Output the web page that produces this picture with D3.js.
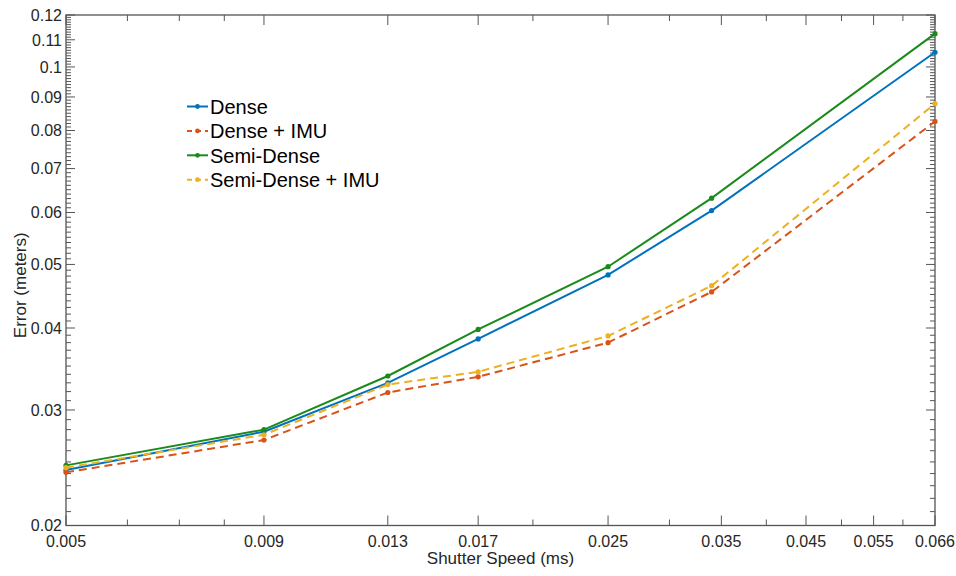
<!DOCTYPE html>
<html>
<head>
<meta charset="utf-8">
<script src="https://cdn.jsdelivr.net/npm/d3@7"></script>
<style>
    body { margin: 0; background: #fff; }
    text { font-family: "Liberation Sans", Arial, sans-serif; fill: #262626; }
</style>
</head>
<body>
<div id="chart"></div>
<script>
// shutter speeds (ms) the runs were made at
const shutter = [0.005, 0.009, 0.013, 0.017, 0.025, 0.034, 0.066];

// error in meters, one array per method
const dense         = [0.0243, 0.0278, 0.0330, 0.0385, 0.0482, 0.0604, 0.1053];
const denseImu      = [0.0241, 0.0270, 0.0319, 0.0337, 0.0380, 0.0454, 0.0826];
const semiDense     = [0.0247, 0.0280, 0.0338, 0.0398, 0.0496, 0.0631, 0.1124];
const semiDenseImu  = [0.0245, 0.0275, 0.0328, 0.0343, 0.0389, 0.0464, 0.0879];

const seriesNames = ["Dense", "Dense + IMU", "Semi-Dense", "Semi-Dense + IMU"];

// axis ticks
const xTicks = [0.005, 0.009, 0.013, 0.017, 0.025, 0.035, 0.045, 0.055, 0.066];
const xMinor = [0.006, 0.007, 0.008, 0.02, 0.03, 0.04, 0.05, 0.06];
const yTicks = [0.02, 0.03, 0.04, 0.05, 0.06, 0.07, 0.08, 0.09, 0.1, 0.11, 0.12];

const series = [
    { name: seriesNames[0], values: dense,        color: "#0072BD", dash: null },
    { name: seriesNames[1], values: denseImu,     color: "#D95319", dash: "8,5" },
    { name: seriesNames[2], values: semiDense,    color: "#1a8a1a", dash: null },
    { name: seriesNames[3], values: semiDenseImu, color: "#EDB120", dash: "8,5" }
];

const W = 956, H = 576;
const margin = { top: 15, right: 21, bottom: 50.5, left: 66 };
const width = W - margin.left - margin.right;
const height = H - margin.top - margin.bottom;

const svg = d3.select("#chart").append("svg")
    .attr("width", W)
    .attr("height", H)
    .append("g")
    .attr("transform", "translate(" + margin.left + "," + margin.top + ")");

const x = d3.scaleLog().domain([0.005, 0.066]).range([0, width]);
const y = d3.scaleLog().domain([0.02, 0.12]).range([height, 0]);

// minor y ticks every 0.001
const yMinor = d3.range(21, 120).filter(v => v % 10 !== 0).map(v => v / 1000);

const axisColor = "#555";

// bottom + top x ticks
function xTickLines(vals, len) {
    vals.forEach(v => {
        svg.append("line")
            .attr("x1", x(v)).attr("x2", x(v))
            .attr("y1", height).attr("y2", height - len)
            .attr("stroke", axisColor).attr("stroke-width", 1);
        svg.append("line")
            .attr("x1", x(v)).attr("x2", x(v))
            .attr("y1", 0).attr("y2", len)
            .attr("stroke", axisColor).attr("stroke-width", 1);
    });
}
xTickLines(xTicks, 10);
xTickLines(xMinor, 6);

// left + right y ticks
function yTickLines(vals, len) {
    vals.forEach(v => {
        svg.append("line")
            .attr("x1", 0).attr("x2", len)
            .attr("y1", y(v)).attr("y2", y(v))
            .attr("stroke", axisColor).attr("stroke-width", 1);
        svg.append("line")
            .attr("x1", width).attr("x2", width - len)
            .attr("y1", y(v)).attr("y2", y(v))
            .attr("stroke", axisColor).attr("stroke-width", 1);
    });
}
yTickLines(yTicks, 9);
yTickLines(yMinor, 5);

// frame
svg.append("rect")
    .attr("width", width)
    .attr("height", height)
    .attr("fill", "none")
    .attr("stroke", axisColor)
    .attr("stroke-width", 1.3);

// tick labels
svg.selectAll(".xlab")
    .data(xTicks)
    .enter()
    .append("text")
    .attr("class", "xlab")
    .attr("x", d => x(d))
    .attr("y", height + 21.5)
    .attr("text-anchor", "middle")
    .style("font-size", "16px")
    .text(d => d);

svg.selectAll(".ylab")
    .data(yTicks)
    .enter()
    .append("text")
    .attr("class", "ylab")
    .attr("x", -4)
    .attr("y", d => y(d))
    .attr("dy", "0.36em")
    .attr("text-anchor", "end")
    .style("font-size", "16px")
    .text(d => d);

// axis titles
svg.append("text")
    .attr("x", width / 2)
    .attr("y", height + 38)
    .attr("text-anchor", "middle")
    .style("font-size", "17px")
    .text("Shutter Speed (ms)");

svg.append("text")
    .attr("transform", "rotate(-90)")
    .attr("x", -(height / 2) - 15)
    .attr("y", -40)
    .attr("text-anchor", "middle")
    .style("font-size", "17px")
    .text("Error (meters)");

// lines
const line = d3.line()
    .x((d, i) => x(shutter[i]))
    .y(d => y(d));

series.forEach(s => {
    svg.append("path")
        .datum(s.values)
        .attr("d", line)
        .attr("fill", "none")
        .attr("stroke", s.color)
        .attr("stroke-width", 2)
        .attr("stroke-dasharray", s.dash);

    svg.selectAll(null)
        .data(s.values)
        .enter()
        .append("circle")
        .attr("cx", (d, i) => x(shutter[i]))
        .attr("cy", d => y(d))
        .attr("r", 2.6)
        .attr("fill", s.color);
});

// legend
const legend = svg.append("g")
    .attr("transform", "translate(" + (187 - margin.left) + "," + (106.5 - margin.top) + ")");

series.forEach((s, i) => {
    const g = legend.append("g").attr("transform", "translate(0," + (i * 24.4) + ")");
    g.append("line")
        .attr("x1", 0).attr("x2", 21)
        .attr("y1", 0).attr("y2", 0)
        .attr("stroke", s.color)
        .attr("stroke-width", 2)
        .attr("stroke-dasharray", s.dash ? "5,4" : null);
    g.append("circle")
        .attr("cx", 10.5).attr("cy", 0)
        .attr("r", 2.4)
        .attr("fill", s.color);
    g.append("text")
        .attr("x", 23)
        .attr("y", 0)
        .attr("dy", "0.36em")
        .style("font-size", "20px")
        .style("fill", "#000")
        .text(s.name);
});
</script>
</body>
</html>
